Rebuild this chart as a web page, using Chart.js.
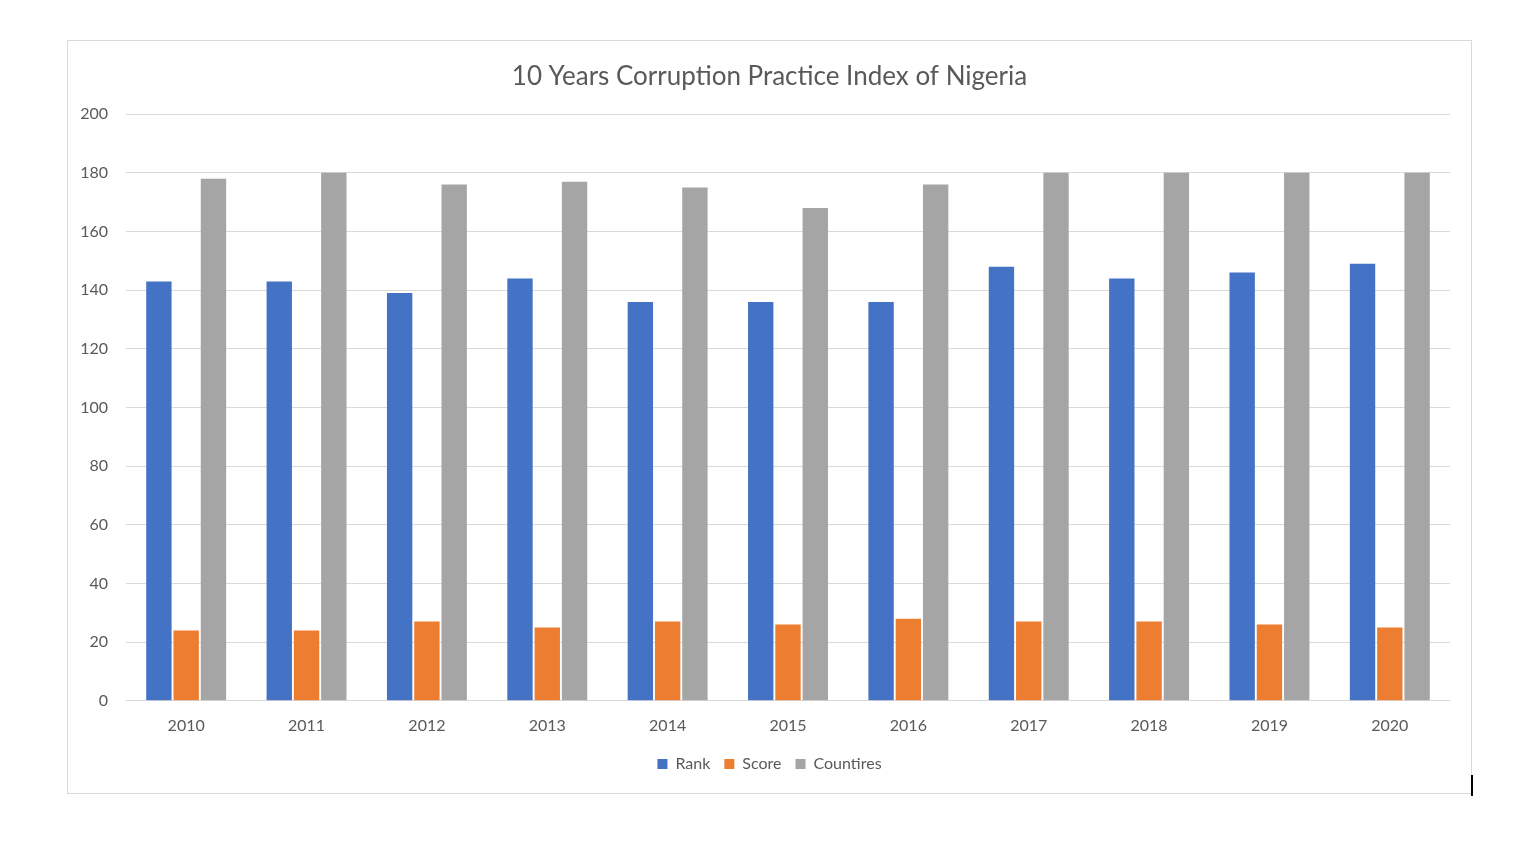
<!DOCTYPE html>
<html>
<head>
<meta charset="utf-8">
<script src="https://cdn.jsdelivr.net/npm/chart.js@4.4.0/dist/chart.umd.min.js"></script>
<style>
  body { margin: 0; background: #fff; }
  #box {
    position: absolute; left: 67px; top: 40px; width: 1403px; height: 752px;
    border: 1px solid #d9d9d9; background: #fff;
  }
  #mark { position: absolute; left: 1471px; top: 775px; width: 2px; height: 21px; background: #000; }
</style>
</head>
<body>
<div id="box"><canvas id="myChart"></canvas></div>
<div id="mark"></div>
<script>
const years = ['2010', '2011', '2012', '2013', '2014', '2015', '2016', '2017', '2018', '2019', '2020']
const rank = [143, 143, 139, 144, 136, 136, 136, 148, 144, 146, 149]
const score = [24, 24, 27, 25, 27, 26, 28, 27, 27, 26, 25]
const countries = [178, 180, 176, 177, 175, 168, 176, 180, 180, 180, 180]
const yTicks = [0, 20, 40, 60, 80, 100, 120, 140, 160, 180, 200]

const grey = '#595959'
const font = "Lato, 'Open Sans', sans-serif"

// the y axis is kept narrow so title and legend centre on the box; let its labels spill left
Chart.LinearScale.prototype._computeLabelArea = function () { return undefined }

const canvas = document.getElementById('myChart')
canvas.width = 1403
canvas.height = 752
canvas.style.width = '1403px'
canvas.style.height = '752px'

const data = {
    labels: years,
    datasets: [
        { label: 'Rank', data: rank, backgroundColor: '#4472c4' },
        { label: 'Score', data: score, backgroundColor: '#ed7d31' },
        { label: 'Countires', data: countries, backgroundColor: '#a5a5a5' }
    ]
}

const config = {
    type: 'bar',
    data: data,
    options: {
        responsive: false,
        animation: false,
        categoryPercentage: 0.68,
        barPercentage: 0.93,
        layout: { padding: { left: 21, right: 21, top: 6, bottom: 11 } },
        plugins: {
            title: {
                display: true,
                text: '10 Years Corruption Practice Index of Nigeria',
                color: grey,
                font: { family: font, size: 26, weight: 'normal' },
                padding: { top: 14, bottom: 22 }
            },
            legend: {
                position: 'bottom',
                labels: {
                    color: grey,
                    boxWidth: 10,
                    boxHeight: 10,
                    padding: 14,
                    font: { family: font, size: 16 }
                }
            },
            tooltip: { enabled: false }
        },
        scales: {
            x: {
                grid: { display: false },
                border: { display: false },
                ticks: { color: grey, font: { family: font, size: 16 }, padding: 7 }
            },
            y: {
                min: 0,
                max: 200,
                afterBuildTicks: axis => { axis.ticks = yTicks.map(v => ({ value: v })) },
                afterFit: axis => { axis.width = 37 },
                grid: { color: '#d9d9d9', lineWidth: 1, drawTicks: false },
                border: { display: false },
                ticks: { color: grey, font: { family: font, size: 16 }, padding: 18 }
            }
        }
    }
}

const chart = new Chart(canvas, config)
</script>
</body>
</html>
